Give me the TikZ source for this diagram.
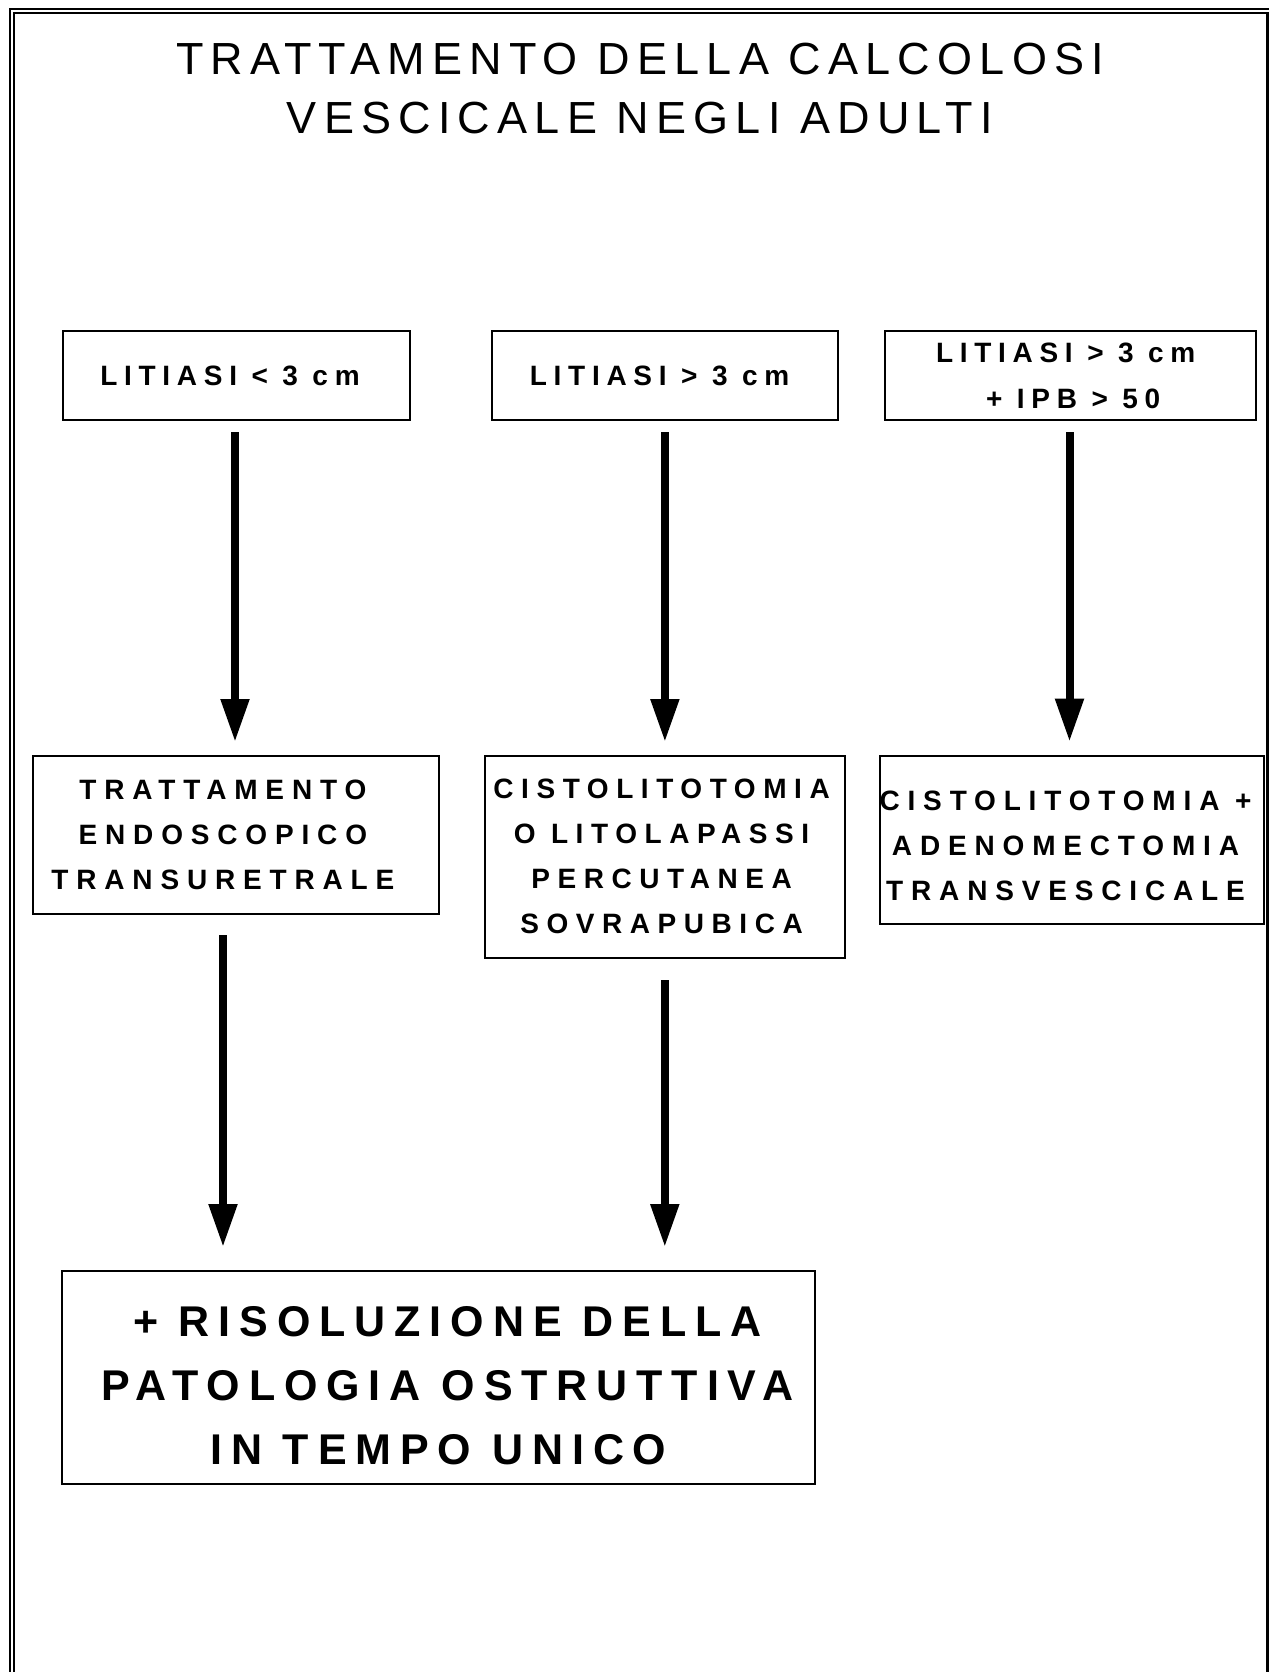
\documentclass[tikz,border=0pt]{standalone}
\usepackage{fontspec}
\setmainfont{Liberation Sans}
\usetikzlibrary{arrows.meta}
% invisible spacers that nudge single lines inside centred nodes
\newcommand\padl[1]{\rule{#1}{0pt}}
\newcommand\padr[1]{\rule{#1}{0pt}}
\begin{document}
\begin{tikzpicture}[x=0.5pt,y=-0.5pt,
  box/.style={draw, line width=1pt, inner sep=0pt, align=center},
  titletxt/.style={font=\fontsize{22.5pt}{29.85pt}\selectfont\addfontfeature{LetterSpace=16}},
  smalltxt/.style={font=\fontsize{14pt}{23pt}\selectfont\bfseries\addfontfeature{LetterSpace=24}},
  midtxt/.style={font=\fontsize{14pt}{22.5pt}\selectfont\bfseries\addfontfeature{LetterSpace=28}},
  bigtxt/.style={font=\fontsize{21.5pt}{32pt}\selectfont\bfseries\addfontfeature{LetterSpace=20.7}},
  flow/.style={line width=4pt, -{Triangle[width=13.5pt,length=21.5pt]}},
]
\useasboundingbox (0,0) rectangle (1269,1672);
% page frame
\draw[line width=1pt] (10,1672) -- (10,9) -- (1269,9);
\draw[line width=1pt] (14,1672) -- (14,13) -- (1267,13);
\draw[line width=1.5pt] (1267,12) -- (1267,1672);

% heading
\node[titletxt, align=center] (title) at (640,88.5)
  {TRATTAMENTO DELLA CALCOLOSI\\VESCICALE NEGLI ADULTI};

% conditions
\node[box, smalltxt, minimum width=173.65pt, minimum height=44.65pt] (a) at (236.4,375.4)
  {LITIASI < 3 cm\padr{6.4pt}};
\node[box, smalltxt, minimum width=173.3pt, minimum height=44.8pt] (b) at (664.9,375.4)
  {LITIASI > 3 cm\padr{5.3pt}};
\node[box, smalltxt, minimum width=185.5pt, minimum height=44.65pt] (c) at (1070.5,375.4)
  {LITIASI > 3 cm\padr{4.8pt}\\\padl{2.7pt}+ IPB > 50};

% treatments
\node[box, midtxt, minimum width=203.15pt, minimum height=79pt] (d) at (236.2,835)
  {TRATTAMENTO\padr{13.3pt}\\ENDOSCOPICO\padr{13.3pt}\\TRANSURETRALE\padr{13.3pt}};
\node[box, midtxt, minimum width=179.8pt, minimum height=100.8pt,
  font=\fontsize{14pt}{22.5pt}\selectfont\bfseries\addfontfeature{LetterSpace=27}] (e) at (664.8,856.8)
  {CISTOLITOTOMIA\padr{3.2pt}\\O LITOLAPASSI\padr{3.2pt}\\PERCUTANEA\padr{3.2pt}\\SOVRAPUBICA\padr{3.2pt}};
\node[box, midtxt, minimum width=191.15pt, minimum height=84.3pt] (f) at (1071.9,840)
  {\rule{0pt}{15.7pt}CISTOLITOTOMIA +\padr{6.4pt}\\ADENOMECTOMIA\padr{6.4pt}\\TRANSVESCICALE\padr{6.4pt}};

% outcome
\node[box, bigtxt, minimum width=376.4pt, minimum height=106.65pt] (g) at (438.3,1377.7)
  {\rule{0pt}{23.4pt}\padl{9pt}+ RISOLUZIONE DELLA\\\padl{9pt}PATOLOGIA OSTRUTTIVA\\IN TEMPO UNICO};

% connectors
\draw[flow, shorten <=5.5pt, shorten >=6.5pt] ([xshift=-0.7pt]a.south) -- ([xshift=-0.7pt]a.south |- d.north);
\draw[flow, shorten <=5.5pt, shorten >=6.5pt] (b.south) -- (b.south |- e.north);
\draw[flow, shorten <=5.5pt, shorten >=6.5pt] ([xshift=-0.5pt]c.south) -- ([xshift=-0.5pt]c.south |- f.north);
\draw[flow, shorten <=10pt, shorten >=11.5pt] ([xshift=-6.6pt]d.south) -- ([xshift=-6.6pt]d.south |- g.north);
\draw[flow, shorten <=10.7pt, shorten >=11.5pt] (e.south) -- (e.south |- g.north);
\end{tikzpicture}
\end{document}
